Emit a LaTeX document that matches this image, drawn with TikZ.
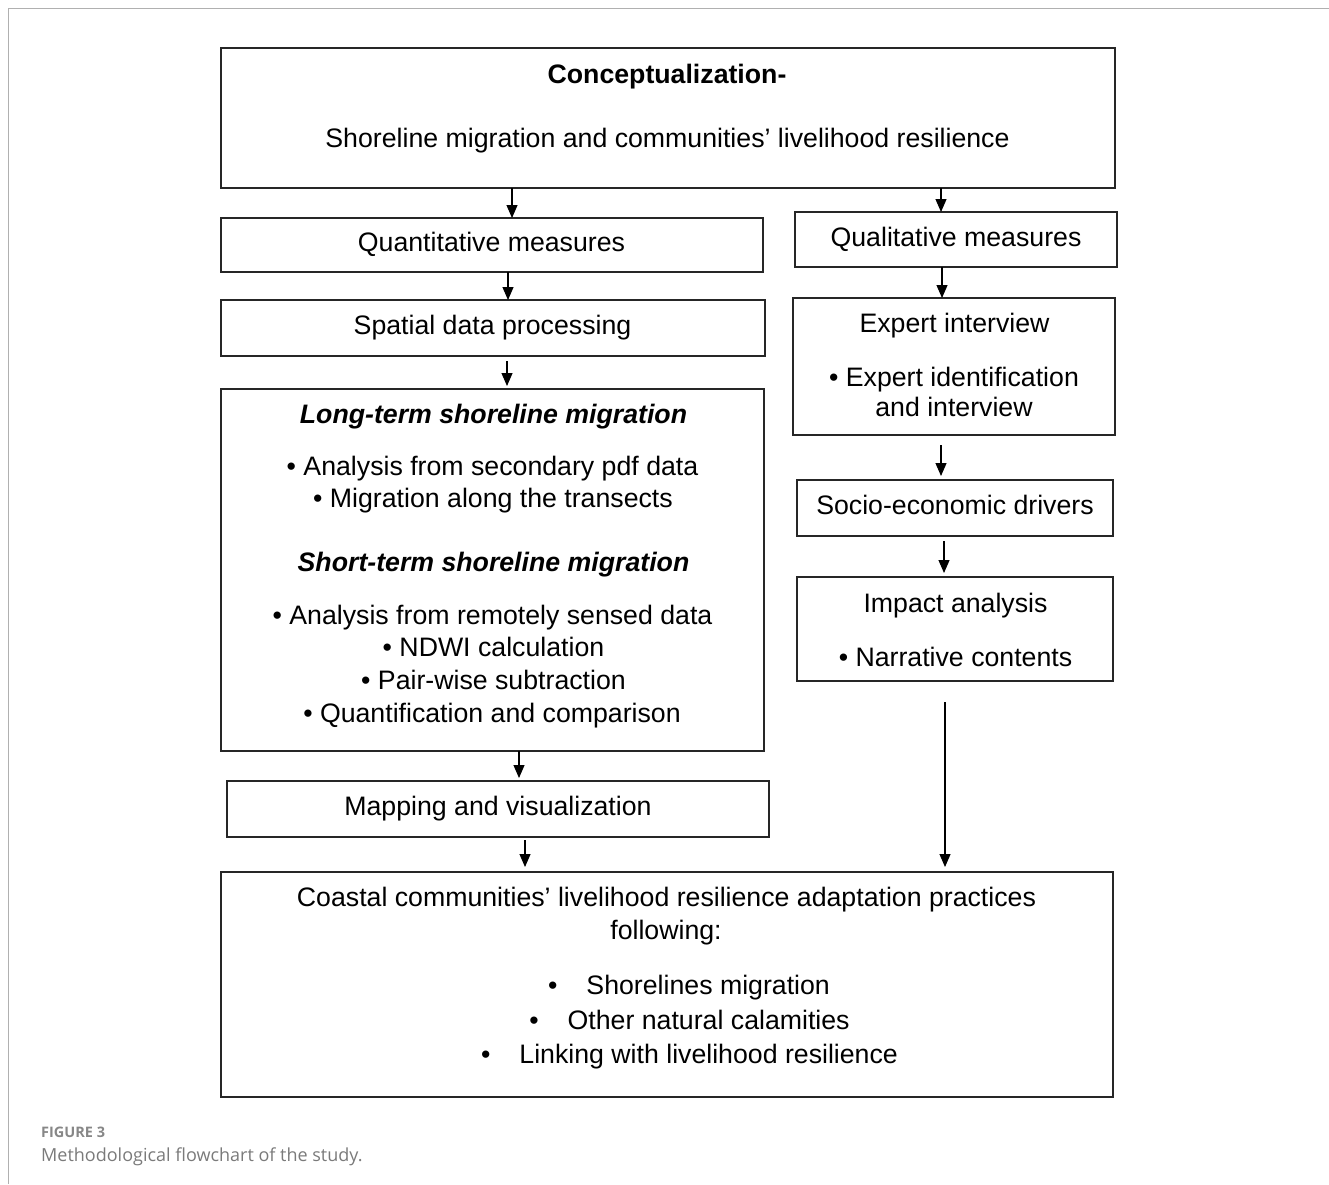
\documentclass[tikz,border=0pt]{standalone}
\usepackage{fontspec}
\setmainfont{Liberation Sans}
\newfontfamily\capfont{Open Sans}
\usetikzlibrary{arrows.meta}
\definecolor{capgray}{HTML}{7A7A7A}
\definecolor{framegray}{HTML}{B0B0B0}
\begin{document}
\begin{tikzpicture}[x=1pt,y=-1pt,
  box/.style={draw=black!85, line width=1.3pt, inner sep=0pt, outer sep=0pt, anchor=north west},
  txt/.style={inner sep=0pt, anchor=base, font=\fontsize{26.7}{30}\selectfont},
  head/.style={txt, font=\fontsize{26.7}{30}\selectfont\bfseries},
  headit/.style={txt, font=\fontsize{26.7}{30}\selectfont\bfseries\itshape},
  arr/.style={-{Triangle[length=13pt,width=11pt]}, line width=1.1pt, black},
  captop/.style={inner sep=0pt, anchor=base west, text=capgray!90, font=\capfont\bfseries\fontsize{14.5}{18}\selectfont},
  captxt/.style={inner sep=0pt, anchor=base west, text=capgray, font=\capfont\fontsize{18}{22}\selectfont}]
\useasboundingbox (0,0) rectangle (1329,1184);
\draw[framegray, line width=1.5pt] (8.5,1184) -- (8.5,8.5) -- (1329,8.5);

% boxes
\node[box, minimum width=894pt, minimum height=140pt] (concept) at (221,48) {};
\node[box, minimum width=542pt, minimum height=54pt]  (quant)   at (221,218) {};
\node[box, minimum width=322pt, minimum height=55pt]  (qual)    at (795,212) {};
\node[box, minimum width=544pt, minimum height=56pt]  (spatial) at (221,300) {};
\node[box, minimum width=322pt, minimum height=137pt] (expert)  at (793,298) {};
\node[box, minimum width=543pt, minimum height=362pt] (long)    at (221,389) {};
\node[box, minimum width=316pt, minimum height=56pt]  (socio)   at (797,480) {};
\node[box, minimum width=316pt, minimum height=104pt] (impact)  at (797,577) {};
\node[box, minimum width=542pt, minimum height=56pt]  (mapping) at (227,781) {};
\node[box, minimum width=892pt, minimum height=225pt] (final)   at (221,872) {};

% texts
\node[head] (t1) at (667,83) {Conceptualization-};
\node[txt] (t2) at (667.5,147) {Shoreline migration and communities’ livelihood resilience};
\node[txt] (t3) at (491.5,251) {Quantitative measures};
\node[txt] (t4) at (956,246) {Qualitative measures};
\node[txt] (t5) at (492.5,334) {Spatial data processing};
\node[txt] (t6) at (954.5,332) {Expert interview};
\node[txt] (t7) at (954,386) {\textbullet\ Expert identification};
\node[txt] (t8) at (954,416) {and interview};
\node[headit] (t9) at (493.5,423) {Long-term shoreline migration};
\node[txt] (t10) at (492.5,475) {\textbullet\ Analysis from secondary pdf data};
\node[txt] (t11) at (493,507) {\textbullet\ Migration along the transects};
\node[headit] (t12) at (493.5,571) {Short-term shoreline migration};
\node[txt] (t13) at (492.5,624) {\textbullet\ Analysis from remotely sensed data};
\node[txt] (t14) at (493.5,656) {\textbullet\ NDWI calculation};
\node[txt] (t15) at (493.5,689) {\textbullet\ Pair-wise subtraction};
\node[txt] (t16) at (492,722) {\textbullet\ Quantification and comparison};
\node[txt] (t17) at (955,514) {Socio-economic drivers};
\node[txt] (t18) at (955.5,612) {Impact analysis};
\node[txt] (t19) at (955.5,666) {\textbullet\ Narrative contents};
\node[txt] (t20) at (498,815) {Mapping and visualization};
\node[txt] (t21) at (666.5,906) {Coastal communities’ livelihood resilience adaptation practices};
\node[txt] (t22) at (666,939) {following:};
\node[txt] (t23) at (689,994) {\textbullet\hspace{29pt}Shorelines migration};
\node[txt] (t24) at (689.5,1029) {\textbullet\hspace{29pt}Other natural calamities};
\node[txt] (t25) at (689.5,1063) {\textbullet\hspace{29pt}Linking with livelihood resilience};

% caption
\node[captop] (cap1) at (41,1137) {FIGURE 3};
\node[captxt] (cap2) at (41,1161) {Methodological flowchart of the study.};

% arrow x positions
\coordinate (x1) at (512,0);
\coordinate (x2) at (941,0);
\coordinate (x3) at (508,0);
\coordinate (x4) at (942,0);
\coordinate (x5) at (507,0);
\coordinate (x6) at (941,0);
\coordinate (x7) at (944,0);
\coordinate (x8) at (519,0);
\coordinate (x9) at (525,0);
\coordinate (x10) at (945,0);

% connectors
\draw[arr] (concept.south -| x1) -- (quant.north -| x1);
\draw[arr] (concept.south -| x2) -- (qual.north -| x2);
\draw[arr] (quant.south -| x3) -- (spatial.north -| x3);
\draw[arr] (qual.south -| x4) -- (expert.north -| x4);
\draw[arr, shorten <=5pt, shorten >=3pt] (spatial.south -| x5) -- (long.north -| x5);
\draw[arr, shorten <=10pt, shorten >=4pt] (expert.south -| x6) -- (socio.north -| x6);
\draw[arr, shorten <=5pt, shorten >=4pt] (socio.south -| x7) -- (impact.north -| x7);
\draw[arr, shorten >=3pt] (long.south -| x8) -- (mapping.north -| x8);
\draw[arr, shorten <=3pt, shorten >=5pt] (mapping.south -| x9) -- (final.north -| x9);
\draw[arr, shorten <=21pt, shorten >=5pt] (impact.south -| x10) -- (final.north -| x10);
\end{tikzpicture}
\end{document}
